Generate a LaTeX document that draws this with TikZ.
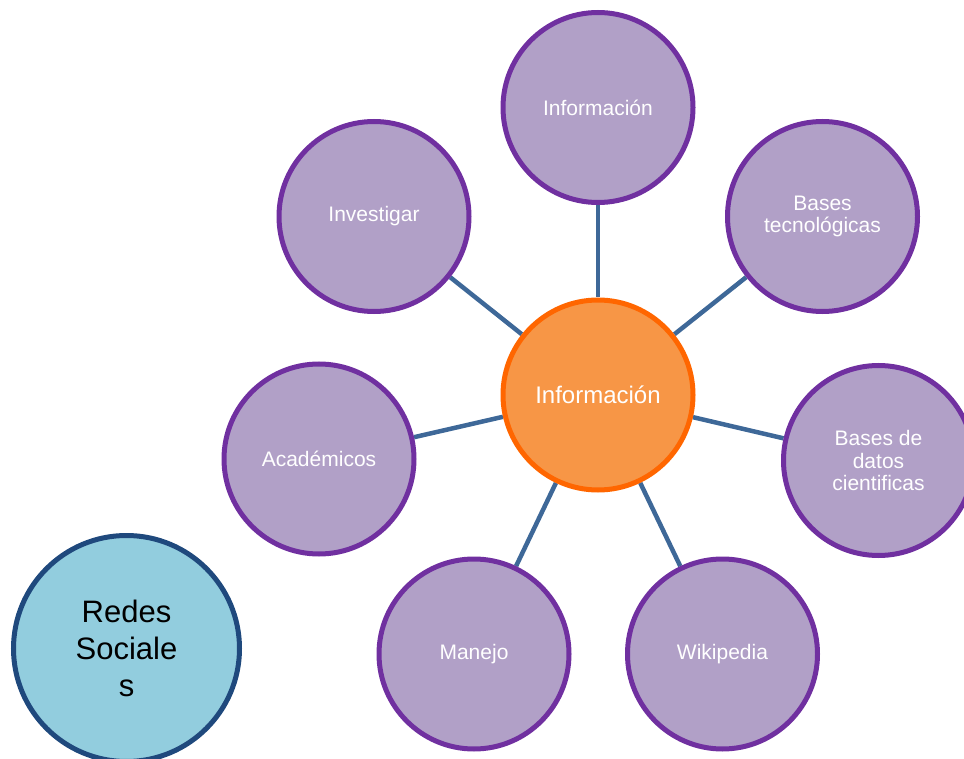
\documentclass[tikz,border=0pt]{standalone}
\usepackage{fontspec}
\setmainfont{Liberation Sans}
\usepackage{xcolor}
\usetikzlibrary{backgrounds}
\definecolor{petalfill}{RGB}{177,160,199}
\definecolor{petaldraw}{RGB}{112,48,160}
\definecolor{hubfill}{RGB}{247,150,70}
\definecolor{hubdraw}{RGB}{255,102,0}
\definecolor{redfill}{RGB}{146,205,222}
\definecolor{reddraw}{RGB}{31,73,125}
\definecolor{linkcol}{RGB}{62,104,152}

\begin{document}
\begin{tikzpicture}[x=1pt,y=-1pt,
  petal/.style={circle,draw=petaldraw,fill=petalfill,line width=5pt,minimum size=190pt,
    inner sep=0pt,align=center,text=white,font=\fontsize{21}{22.5}\selectfont},
  hub/.style={circle,draw=hubdraw,fill=hubfill,line width=5pt,minimum size=190pt,
    inner sep=0pt,align=center,text=white,font=\fontsize{24}{26}\selectfont},
  redbox/.style={circle,draw=reddraw,fill=redfill,line width=5pt,minimum size=226pt,
    inner sep=0pt,align=center,text=black,font=\fontsize{31}{36.7}\selectfont},
  link/.style={draw=linkcol,line width=4.5pt}]
\useasboundingbox (0,0) rectangle (964,759);
% ---- centre and surrounding circles
\node[hub] (hub) at (598,395) {Información};
\node[petal] (info) at (598,107.5) {Información};
\node[petal] (inve) at (374,216.5) {Investigar};
\node[petal] (btec) at (822.5,216.5) {Bases\\tecnológicas};
\node[petal] (acad) at (319,459) {Académicos};
\node[petal] (bdat) at (878.5,460.5) {Bases de\\datos\\cientificas};
\node[petal] (mane) at (474,654) {Manejo};
\node[petal] (wiki) at (722.5,654) {Wikipedia};
% ---- spokes, behind the circles
\begin{pgfonlayer}{background}
\foreach \n in {info,inve,btec,acad,bdat,mane,wiki}
  \draw[link] (hub) -- (\n);
\end{pgfonlayer}
% ---- separate circle, lower left
\node[redbox] (rede) at (126.5,648.5) {Redes\\Sociale\\s};
\end{tikzpicture}
\end{document}
